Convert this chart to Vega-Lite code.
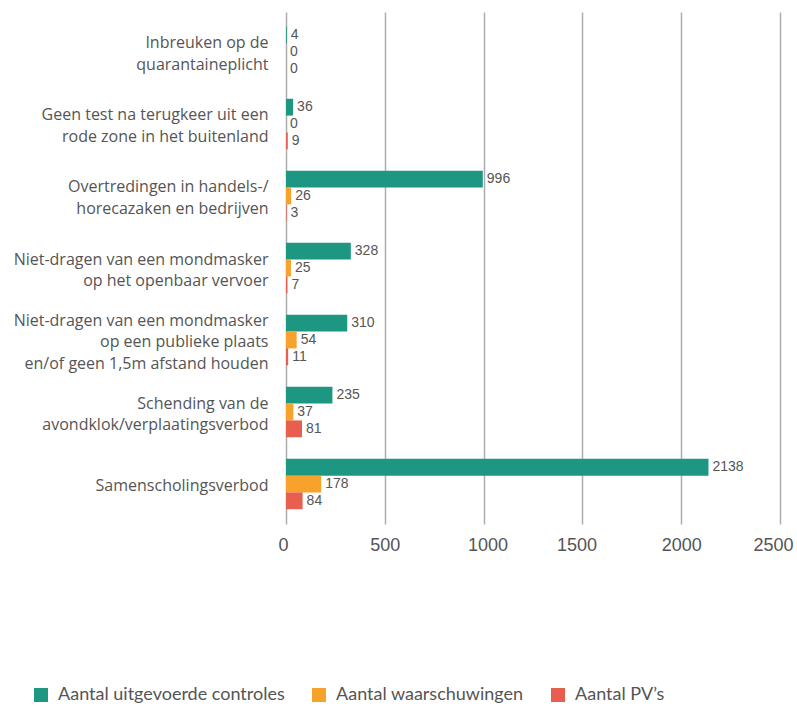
{
  "$schema": "https://vega.github.io/schema/vega-lite/v6.json",
  "autosize": "none",
  "width": 494,
  "height": 512,
  "padding": {"left": 286, "top": 12, "right": 17, "bottom": 182},
  "background": "white",
  "config": {
    "view": {"stroke": null},
    "font": "Open Sans"
  },
  "data": {
    "values": [
      {"cat": "Inbreuken op de|quarantaineplicht", "series": "Aantal uitgevoerde controles", "o": 1, "value": 4},
      {"cat": "Inbreuken op de|quarantaineplicht", "series": "Aantal waarschuwingen", "o": 2, "value": 0},
      {"cat": "Inbreuken op de|quarantaineplicht", "series": "Aantal PV’s", "o": 3, "value": 0},
      {"cat": "Geen test na terugkeer uit een|rode zone in het buitenland", "series": "Aantal uitgevoerde controles", "o": 1, "value": 36},
      {"cat": "Geen test na terugkeer uit een|rode zone in het buitenland", "series": "Aantal waarschuwingen", "o": 2, "value": 0},
      {"cat": "Geen test na terugkeer uit een|rode zone in het buitenland", "series": "Aantal PV’s", "o": 3, "value": 9},
      {"cat": "Overtredingen in handels-/|horecazaken en bedrijven", "series": "Aantal uitgevoerde controles", "o": 1, "value": 996},
      {"cat": "Overtredingen in handels-/|horecazaken en bedrijven", "series": "Aantal waarschuwingen", "o": 2, "value": 26},
      {"cat": "Overtredingen in handels-/|horecazaken en bedrijven", "series": "Aantal PV’s", "o": 3, "value": 3},
      {"cat": "Niet-dragen van een mondmasker|op het openbaar vervoer", "series": "Aantal uitgevoerde controles", "o": 1, "value": 328},
      {"cat": "Niet-dragen van een mondmasker|op het openbaar vervoer", "series": "Aantal waarschuwingen", "o": 2, "value": 25},
      {"cat": "Niet-dragen van een mondmasker|op het openbaar vervoer", "series": "Aantal PV’s", "o": 3, "value": 7},
      {"cat": "Niet-dragen van een mondmasker|op een publieke plaats|en/of geen 1,5m afstand houden", "series": "Aantal uitgevoerde controles", "o": 1, "value": 310},
      {"cat": "Niet-dragen van een mondmasker|op een publieke plaats|en/of geen 1,5m afstand houden", "series": "Aantal waarschuwingen", "o": 2, "value": 54},
      {"cat": "Niet-dragen van een mondmasker|op een publieke plaats|en/of geen 1,5m afstand houden", "series": "Aantal PV’s", "o": 3, "value": 11},
      {"cat": "Schending van de|avondklok/verplaatingsverbod", "series": "Aantal uitgevoerde controles", "o": 1, "value": 235},
      {"cat": "Schending van de|avondklok/verplaatingsverbod", "series": "Aantal waarschuwingen", "o": 2, "value": 37},
      {"cat": "Schending van de|avondklok/verplaatingsverbod", "series": "Aantal PV’s", "o": 3, "value": 81},
      {"cat": "Samenscholingsverbod", "series": "Aantal uitgevoerde controles", "o": 1, "value": 2138},
      {"cat": "Samenscholingsverbod", "series": "Aantal waarschuwingen", "o": 2, "value": 178},
      {"cat": "Samenscholingsverbod", "series": "Aantal PV’s", "o": 3, "value": 84}
    ]
  },
  "encoding": {
    "y": {
      "field": "cat",
      "type": "nominal",
      "sort": null,
      "scale": {"paddingInner": 0.3, "paddingOuter": 0.205},
      "axis": {
        "title": null,
        "domain": false,
        "ticks": false,
        "labelExpr": "split(datum.value, '|')",
        "labelFont": "Open Sans",
        "labelFontSize": 16,
        "labelLineHeight": 21.5,
        "labelColor": "#555555",
        "labelPadding": 18,
        "labelLimit": 300,
        "labelOffset": {
          "condition": [
            {"test": "length(split(datum.value, '|')) == 3", "value": -19.5},
            {"test": "length(split(datum.value, '|')) == 2", "value": -8.5}
          ],
          "value": 2
        }
      }
    },
    "yOffset": {
      "field": "o",
      "type": "ordinal",
      "scale": {"paddingInner": 0, "paddingOuter": 0}
    },
    "x": {
      "field": "value",
      "type": "quantitative",
      "scale": {"domain": [0, 2500], "nice": false},
      "axis": {
        "title": null,
        "values": [0, 500, 1000, 1500, 2000, 2500],
        "format": "d",
        "domain": false,
        "ticks": false,
        "grid": true,
        "gridColor": "#adadad",
        "gridWidth": 1.5,
        "labelFont": "Liberation Sans",
        "labelFontSize": 18,
        "labelColor": "#555555",
        "labelPadding": 12,
        "labelFlush": false,
        "labelOffset": {
          "condition": [
            {"test": "datum.value == 0", "value": -3},
            {"test": "datum.value == 1000", "value": 4},
            {"test": "datum.value == 1500", "value": -6},
            {"test": "datum.value == 2500", "value": -7}
          ],
          "value": 0
        }
      }
    }
  },
  "layer": [
    {
      "mark": {"type": "bar"},
      "encoding": {
        "color": {
          "field": "series",
          "type": "nominal",
          "sort": ["Aantal uitgevoerde controles", "Aantal waarschuwingen", "Aantal PV’s"],
          "scale": {
            "domain": ["Aantal uitgevoerde controles", "Aantal waarschuwingen", "Aantal PV’s"],
            "range": ["#1d9682", "#f7a22b", "#e85f50"]
          },
          "legend": {
            "title": null,
            "orient": "none",
            "direction": "horizontal",
            "legendX": -254,
            "legendY": 674,
            "symbolType": "square",
            "symbolSize": 196,
            "symbolStrokeWidth": 0,
            "labelFont": "Lato",
            "labelFontSize": 18,
            "labelColor": "#555555",
            "labelOffset": 8,
            "columnPadding": 25,
            "labelLimit": 400
          }
        }
      }
    },
    {
      "mark": {"type": "text", "align": "left", "baseline": "middle", "dx": 4, "font": "Liberation Sans", "fontSize": 14, "color": "#555555"},
      "encoding": {
        "text": {"field": "value", "type": "quantitative"}
      }
    }
  ]
}
